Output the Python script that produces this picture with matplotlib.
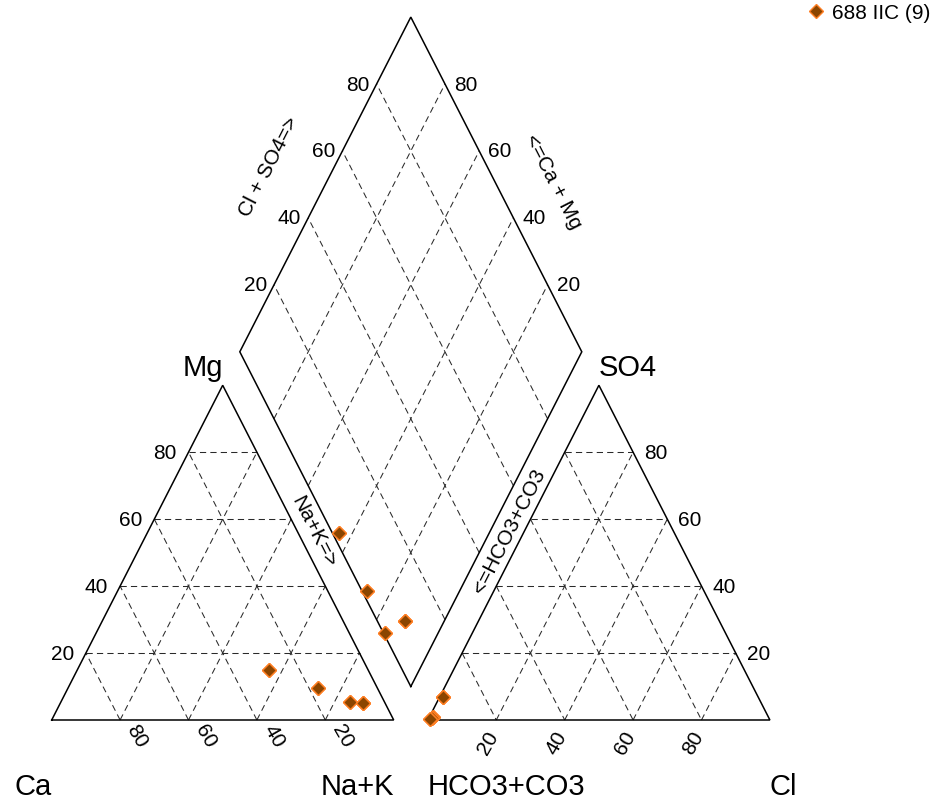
import numpy as np
import matplotlib
matplotlib.use("Agg")
import matplotlib.pyplot as plt
from matplotlib.lines import Line2D

plt.rcParams['font.family'] = ['Liberation Sans', 'DejaVu Sans']

# ---------------- data (percent of milliequivalents) ----------------
series_name = "688 IIC"
ca   = [29.0, 29.0, 17.5, 17.5, 10.0, 10.0, 6.5, 6.5, 6.5]
mg   = [15.0, 15.0, 9.5, 9.5, 5.5, 5.5, 5.0, 5.0, 5.0]
nak  = [56.0, 56.0, 73.0, 73.0, 84.5, 84.5, 88.5, 88.5, 88.5]
hco3 = [98.2, 98.2, 98.6, 98.6, 99.4, 99.4, 92.0, 92.0, 92.0]
cl   = [1.0, 1.0, 0.8, 0.8, 0.4, 0.4, 1.0, 1.0, 1.0]
so4  = [0.8, 0.8, 0.6, 0.6, 0.2, 0.2, 7.0, 7.0, 7.0]
grid_ticks = [20, 40, 60, 80]
tick_labels = ["20", "40", "60", "80"]

# ---------------- geometry ----------------
S3 = np.sqrt(3) / 2
GAP = 0.1
W, H = 939, 803
DPI = 100
PX2PT = 72.0 / DPI


def cat_xy(c_a, m_g, n_k):
    t = c_a + m_g + n_k
    m = np.asarray(m_g) / t
    n = np.asarray(n_k) / t
    return n + 0.5 * m, S3 * m


def an_xy(h_c, c_l, s_o):
    t = h_c + c_l + s_o
    s = np.asarray(s_o) / t
    c = np.asarray(c_l) / t
    return 1 + GAP + c + 0.5 * s, S3 * s


def dia_xy(n_k_frac, a_frac):
    bx, by = 1 + GAP / 2, GAP * S3
    r = 1 - np.asarray(n_k_frac)
    a = np.asarray(a_frac)
    return bx - 0.5 * r + 0.5 * a, by + S3 * r + S3 * a


fig = plt.figure(figsize=(W / DPI, H / DPI), dpi=DPI)
ax = fig.add_axes([0, 0, 1, 1])
xs = 342.0   # px per unit
ys = 386.5   # px per unit
x0, y0 = 51.7, 82.0  # pixel position of the Ca corner (from left, from bottom)
ax.set_xlim(-x0 / xs, (W - x0) / xs)
ax.set_ylim(-y0 / ys, (H - y0) / ys)
ax.axis('off')

grid_kw = dict(color='#2a2a2a', lw=0.75, ls=(0, (6, 4)), zorder=1)
edge_kw = dict(color='black', lw=1.1, zorder=2, solid_joinstyle='miter')

# outlines
cx, cy = cat_xy(np.array([100, 0, 0, 100.]), np.array([0, 0, 100, 0.]), np.array([0, 100, 0, 0.]))
ax.plot(cx, cy, **edge_kw)
axx, ayy = an_xy(np.array([100, 0, 0, 100.]), np.array([0, 100, 0, 0.]), np.array([0, 0, 100, 0.]))
ax.plot(axx, ayy, **edge_kw)
dx, dy = dia_xy(np.array([1, 0, 0, 1, 1.]), np.array([0, 0, 1, 1, 0.]))
ax.plot(dx, dy, **edge_kw)

# grids
for p in grid_ticks:
    q = 100 - p
    # cation
    gx, gy = cat_xy(np.array([q, 0.]), np.array([p, p * 1.]), np.array([0, q * 1.]))
    ax.plot(gx, gy, **grid_kw)
    gx, gy = cat_xy(np.array([q, 0.]), np.array([0, q * 1.]), np.array([p, p * 1.]))
    ax.plot(gx, gy, **grid_kw)
    gx, gy = cat_xy(np.array([p, p * 1.]), np.array([0, q * 1.]), np.array([q, 0.]))
    ax.plot(gx, gy, **grid_kw)
    # anion
    gx, gy = an_xy(np.array([q, 0.]), np.array([0, q * 1.]), np.array([p, p * 1.]))
    ax.plot(gx, gy, **grid_kw)
    gx, gy = an_xy(np.array([q, 0.]), np.array([p, p * 1.]), np.array([0, q * 1.]))
    ax.plot(gx, gy, **grid_kw)
    gx, gy = an_xy(np.array([p, p * 1.]), np.array([0, q * 1.]), np.array([q, 0.]))
    ax.plot(gx, gy, **grid_kw)
    # diamond
    f = p / 100
    gx, gy = dia_xy(np.array([1, 0.]), np.array([f, f]))
    ax.plot(gx, gy, **grid_kw)
    gx, gy = dia_xy(np.array([f, f]), np.array([0, 1.]))
    ax.plot(gx, gy, **grid_kw)

TFS = 15


def lab(txt, xy, off_px, **kw):
    ax.annotate(txt, xy=xy, xytext=(off_px[0] * PX2PT, -off_px[1] * PX2PT),
                textcoords='offset points', fontsize=kw.pop('fontsize', TFS), **kw)


for p, t in zip(grid_ticks, tick_labels):
    q = 100 - p
    f = p / 100
    # cation left edge (Mg)
    px_, py_ = cat_xy(q, p, 0)
    lab(t, (px_, py_), (-12, 0), ha='right', va='center')
    # cation base (Ca)
    px_, py_ = cat_xy(p, 0, q)
    lab(t, (px_, py_), (17, 15), ha='center', va='center', rotation=-60,
        rotation_mode='anchor')
    # anion right edge (SO4)
    px_, py_ = an_xy(0, q, p)
    lab(t, (px_, py_), (11, 0), ha='left', va='center')
    # anion base (Cl)
    px_, py_ = an_xy(q, p, 0)
    lab(t, (px_, py_), (-8.5, 22), ha='center', va='center', rotation=60,
        rotation_mode='anchor')
    # diamond upper-left (Cl + SO4)
    px_, py_ = dia_xy(0, f)
    lab(t, (px_, py_), (-7, 0), ha='right', va='center')
    # diamond upper-right (Ca + Mg)
    px_, py_ = dia_xy(1 - f, 1)
    lab(t, (px_, py_), (9, 0), ha='left', va='center')

ang = np.degrees(np.arctan2(S3 * ys, 0.5 * xs))


def dxy(px, py):
    return (px - x0) / xs, (H - py - y0) / ys


for txt, (px, py), rot in [("Cl + SO4=>", (269, 167), ang),
                            ("<=Ca + Mg", (553, 182), -ang),
                            ("Na+K=>", (314, 532), -ang),
                            ("<=HCO3+CO3", (509, 531), ang)]:
    ax.text(*dxy(px, py), txt, rotation=rot, rotation_mode='anchor',
            ha='center', va='center', fontsize=TFS)

VFS = 21
apex_c = cat_xy(0, 100, 0)
apex_a = an_xy(0, 0, 100)
lab("Mg", apex_c, (0, -10.6), ha='right', va='baseline', fontsize=VFS)
lab("SO4", apex_a, (0, -10.6), ha='left', va='baseline', fontsize=VFS)
lab("Ca", cat_xy(100, 0, 0), (0, 74), ha='right', va='baseline', fontsize=VFS)
lab("Na+K", cat_xy(0, 0, 100), (0, 74), ha='right', va='baseline', fontsize=VFS)
lab("HCO3+CO3", an_xy(100, 0, 0), (0, 74), ha='left', va='baseline', fontsize=VFS)
lab("Cl", an_xy(0, 100, 0), (0, 74), ha='left', va='baseline', fontsize=VFS)

# points
ca_a, mg_a, nk_a = map(np.asarray, (ca, mg, nak))
hc_a, cl_a, so_a = map(np.asarray, (hco3, cl, so4))
mk = dict(marker='D', ms=7.6, mfc='#8B4500', mec='#FF7F24', mew=1.0, ls='none', zorder=5)
px_, py_ = cat_xy(ca_a, mg_a, nk_a)
ax.plot(px_, py_, **mk)
px_, py_ = an_xy(hc_a, cl_a, so_a)
ax.plot(px_, py_, **mk)
tc = ca_a + mg_a + nk_a
ta = hc_a + cl_a + so_a
px_, py_ = dia_xy(nk_a / tc, (cl_a + so_a) / ta)
ax.plot(px_, py_, **mk)

handle = Line2D([], [], **mk)
ax.legend([handle], [f"{series_name} ({len(ca)})"], loc='upper left',
          bbox_to_anchor=(805.6 / W, 1 - 4 / H), bbox_transform=fig.transFigure,
          frameon=False, borderpad=0, borderaxespad=0, handlelength=1.0,
          handletextpad=0.25, fontsize=TFS)

fig.savefig("out.png", dpi=DPI)
